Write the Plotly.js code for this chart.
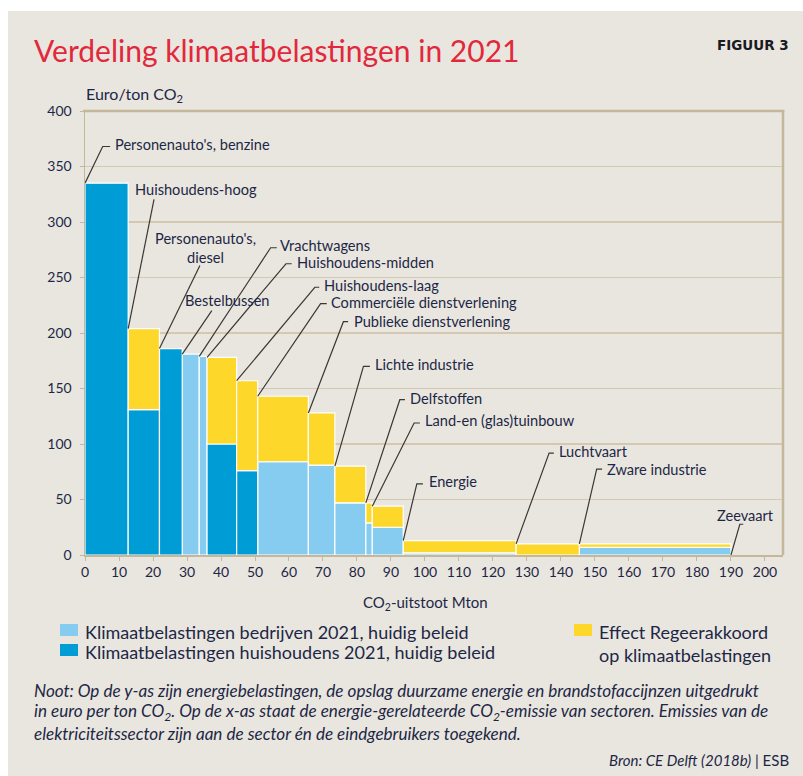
<!DOCTYPE html>
<html>
<head>
<meta charset="utf-8">
<script src="https://cdn.plot.ly/plotly-3.0.1.min.js"></script>
<style>
  html, body { margin: 0; padding: 0; background: #ffffff; }
  #chart { width: 803px; height: 776px; }
</style>
</head>
<body>
<div id="chart"></div>
<script>
// ---------------- DATA ----------------
const sectors = [
  "Personenauto's, benzine", "Huishoudens-hoog", "Personenauto's, diesel", "Bestelbussen",
  "Vrachtwagens", "Huishoudens-midden", "Huishoudens-laag", "Commerciële dienstverlening",
  "Publieke dienstverlening", "Lichte industrie", "Delfstoffen", "Land-en (glas)tuinbouw",
  "Energie", "Luchtvaart", "Zware industrie", "Zeevaart"
];
// CO2-uitstoot per sector (Mton) = bar widths
const emissions = [12.7, 9.2, 6.7, 5.0, 2.3, 8.7, 6.2, 14.9, 7.8, 9.1, 1.9, 9.1, 33.2, 18.6, 44.6, 0];
// Klimaatbelastingen 2021, huidig beleid (euro/ton CO2)
const currentTax = [335, 131, 186, 181, 179, 100, 76, 84, 81, 47, 29, 25, 2, 0, 7, 0];
// Effect Regeerakkoord (euro/ton CO2)
const agreementEffect = [0, 73, 0, 0, 0, 78, 81, 59, 47, 33, 18, 19, 11, 10, 3, 0];
// H = huishoudens, B = bedrijven
const sectorGroup = ['H','H','H','B','B','H','H','B','B','B','B','B','B','B','B','B'];

const labelTexts = [
  "Personenauto's, benzine", "Huishoudens-hoog", "Personenauto's,<br>diesel", "Bestelbussen",
  "Vrachtwagens", "Huishoudens-midden", "Huishoudens-laag", "Commerciële dienstverlening",
  "Publieke dienstverlening", "Lichte industrie", "Delfstoffen", "Land-en (glas)tuinbouw",
  "Energie", "Luchtvaart", "Zware industrie", "Zeevaart"
];
const xTickVals = [0,10,20,30,40,50,60,70,80,90,100,110,120,130,140,150,160,170,180,190,200];
const yTickVals = [0,50,100,150,200,250,300,350,400];

// ---------------- LABEL LAYOUT (positions only) ----------------
const lblElbowX = [5.2, 20.3, 33.8, 37.3, 54.6, 59.1, 67.6, 69.3, 76.0, 81.9, 92.6, 96.8, 97.6, 136.5, 150.5, 192.6];
const lblElbowY = [368, 320.4, 260.8, 220.2, 276.8, 262.4, 241.2, 226.4, 210.2, 169.9, 139.9, 118.9, 64.1, 91.8, 77.3, 27.7];
const lblTickX  = [7.4, null, null, null, 56.4, 60.8, 68.9, 71.1, 77.4, 83.8, 94.1, 98.5, 99.4, 137.9, 152.1, 193.6];
const lblTextX  = [8.1, 14.2, 35.4, 28.9, 56.9, 61.8, 69.6, 71.8, 78.4, 84.6, 95.1, 99.5, 100.5, 138.7, 152.9, 194.4];
const lblTextY  = [370, 329.4, 277, 229.2, 279.2, 263.3, 243.2, 227.6, 210.6, 171.5, 141.4, 120.9, 66.2, 93.2, 77.3, 35.2];
const lblAnchor = ['left','left','center','left','left','left','left','left','left','left','left','left','left','left','left','center'];

// ---------------- DERIVED ----------------
const xStart = [];
let acc = 0;
emissions.forEach(w => { xStart.push(acc); acc += w; });
const xCenter = xStart.map((s, i) => s + emissions[i] / 2);
const totals = currentTax.map((v, i) => v + agreementEffect[i]);

const C_LIGHT = '#86ccf0';
const C_DARK = '#009cd6';
const C_YELLOW = '#fdd82b';
const C_TEXT = '#1e2647';
const C_BG = '#e8e6de';
const C_GRID = '#d4c9b0';
const C_AXIS = '#c5b799';

const barLine = { color: '#ffffff', width: 1.2 };

const traces = [
  {
    type: 'bar', name: 'Klimaatbelastingen bedrijven 2021, huidig beleid',
    x: xCenter, width: emissions,
    y: currentTax.map((v, i) => sectorGroup[i] === 'B' ? v : null),
    base: 0,
    marker: { color: C_LIGHT, line: barLine },
    hoverinfo: 'skip'
  },
  {
    type: 'bar', name: 'Klimaatbelastingen huishoudens 2021, huidig beleid',
    x: xCenter, width: emissions,
    y: currentTax.map((v, i) => sectorGroup[i] === 'H' ? v : null),
    base: 0,
    marker: { color: C_DARK, line: barLine },
    hoverinfo: 'skip'
  },
  {
    type: 'bar', name: 'Effect Regeerakkoord op klimaatbelastingen',
    x: xCenter, width: emissions,
    y: agreementEffect.map(v => v > 0 ? v : null),
    base: currentTax,
    marker: { color: C_YELLOW, line: barLine },
    hoverinfo: 'skip'
  }
];

// pixel -> paper helpers (plot area: x 85..783, y 111..555)
const PL = 85, PW = 698, PT = 111, PH = 444;
const px = v => (v - PL) / PW;
const py = v => (PT + PH - v) / PH;

const shapes = [];
const annotations = [];

// background panel: white strip top and left
shapes.push({ type: 'rect', xref: 'paper', yref: 'paper', x0: px(0), x1: px(803), y0: py(0), y1: py(11), fillcolor: '#ffffff', line: { width: 0 }, layer: 'below' });
shapes.push({ type: 'rect', xref: 'paper', yref: 'paper', x0: px(0), x1: px(8), y0: py(0), y1: py(776), fillcolor: '#ffffff', line: { width: 0 }, layer: 'below' });

// top & right frame
shapes.push({ type: 'line', xref: 'paper', yref: 'paper', x0: px(83), x1: 1.002, y0: 1, y1: 1, line: { color: C_AXIS, width: 2.5 } });
shapes.push({ type: 'line', xref: 'paper', yref: 'paper', x0: 1, x1: 1, y0: 0, y1: 1, line: { color: C_AXIS, width: 2.5 } });

// leader lines + labels
sectors.forEach((s, i) => {
  const ax = xStart[i], ay = totals[i];
  let path = `M ${ax},${ay} L ${lblElbowX[i]},${lblElbowY[i]}`;
  if (lblTickX[i] !== null) path += ` L ${lblTickX[i]},${lblElbowY[i]}`;
  shapes.push({ type: 'path', xref: 'x', yref: 'y', path: path, line: { color: '#3b3734', width: 1.2 } });
  annotations.push({
    xref: 'x', yref: 'y', x: lblTextX[i], y: lblTextY[i],
    text: labelTexts[i], showarrow: false,
    xanchor: lblAnchor[i], yanchor: 'middle', align: 'center',
    font: { family: 'Lato, sans-serif', size: 14.6, color: C_TEXT }
  });
});

// title
annotations.push({ xref: 'paper', yref: 'paper', x: px(32), y: py(50), xanchor: 'left', yanchor: 'middle',
  text: 'Verdeling klimaatbelastingen in 2021', showarrow: false,
  font: { family: 'Lato, sans-serif', size: 30, color: '#e2283c' } });
annotations.push({ xref: 'paper', yref: 'paper', x: px(791), y: py(45), xanchor: 'right', yanchor: 'middle',
  text: '<b>FIGUUR 3</b>', showarrow: false,
  font: { family: 'DejaVu Sans, sans-serif', size: 13.5, color: '#1a1a22' } });

// axis titles
annotations.push({ xref: 'paper', yref: 'paper', x: px(84), y: py(95), xanchor: 'left', yanchor: 'middle',
  text: 'Euro/ton CO<sub>2</sub>', showarrow: false,
  font: { family: 'Lato, sans-serif', size: 16, color: C_TEXT } });
annotations.push({ xref: 'paper', yref: 'paper', x: px(425), y: py(603), xanchor: 'center', yanchor: 'middle',
  text: 'CO<sub>2</sub>-uitstoot Mton', showarrow: false,
  font: { family: 'Lato, sans-serif', size: 15, color: C_TEXT } });

// custom legend
const legendItems = [
  { color: C_LIGHT, x: 60, y: 630, text: traces[0].name },
  { color: C_DARK, x: 60, y: 650, text: traces[1].name },
  { color: C_YELLOW, x: 574, y: 630, text: 'Effect Regeerakkoord<br>op klimaatbelastingen' }
];
legendItems.forEach(it => {
  shapes.push({ type: 'rect', xref: 'paper', yref: 'paper', x0: px(it.x), x1: px(it.x + 18), y0: py(it.y + 6), y1: py(it.y - 6),
    fillcolor: it.color, line: { width: 0 } });
  annotations.push({ xref: 'paper', yref: 'paper', x: px(it.x + 23), y: py(it.y - 11.5), xanchor: 'left', yanchor: 'top', align: 'left',
    text: it.text, showarrow: false,
    font: { family: 'Lato, sans-serif', size: 18, color: C_TEXT } });
});

// note
const noteLines = [
  'Noot: Op de y-as zijn energiebelastingen, de opslag duurzame energie en brandstofaccijnzen uitgedrukt',
  'in euro per ton CO<sub>2</sub>. Op de x-as staat de energie-gerelateerde CO<sub>2</sub>-emissie van sectoren. Emissies van de',
  'elektriciteitssector zijn aan de sector én de eindgebruikers toegekend.'
];
const noteY = [690, 712, 733];
noteLines.forEach((t, i) => {
  annotations.push({ xref: 'paper', yref: 'paper', x: px(32), y: py(noteY[i]), xanchor: 'left', yanchor: 'middle',
    text: '<i>' + t + '</i>', showarrow: false,
    font: { family: 'Lato, sans-serif', size: 17.1, color: C_TEXT } });
});
annotations.push({ xref: 'paper', yref: 'paper', x: px(791), y: py(760), xanchor: 'right', yanchor: 'middle',
  text: '<i>Bron: CE Delft (2018b)</i> | ESB', showarrow: false,
  font: { family: 'Lato, sans-serif', size: 15, color: C_TEXT } });

const layout = {
  width: 803, height: 776,
  margin: { l: PL, r: 803 - PL - PW, t: PT, b: 776 - PT - PH, pad: 0 },
  paper_bgcolor: C_BG, plot_bgcolor: C_BG,
  barmode: 'overlay', bargap: 0,
  showlegend: false,
  xaxis: {
    range: [0, 205.3], tickvals: xTickVals, ticktext: xTickVals.map(String),
    showgrid: false, zeroline: false,
    showline: true, linecolor: C_AXIS, linewidth: 1.5,
    ticks: 'outside', ticklen: 4, tickcolor: C_AXIS, tickwidth: 1,
    tickfont: { family: 'Lato, sans-serif', size: 14, color: C_TEXT },
    fixedrange: true
  },
  yaxis: {
    range: [0, 400], tickvals: yTickVals, ticktext: yTickVals.map(String),
    showgrid: true, gridcolor: C_GRID, gridwidth: 1.2, zeroline: false,
    showline: true, linecolor: C_AXIS, linewidth: 1.5,
    ticks: 'outside', ticklen: 4, tickcolor: C_AXIS, tickwidth: 1,
    ticklabelstandoff: 5,
    tickfont: { family: 'Lato, sans-serif', size: 14, color: C_TEXT },
    fixedrange: true
  },
  shapes: shapes,
  annotations: annotations
};

Plotly.newPlot('chart', traces, layout, { displayModeBar: false, staticPlot: true });
</script>
</body>
</html>
